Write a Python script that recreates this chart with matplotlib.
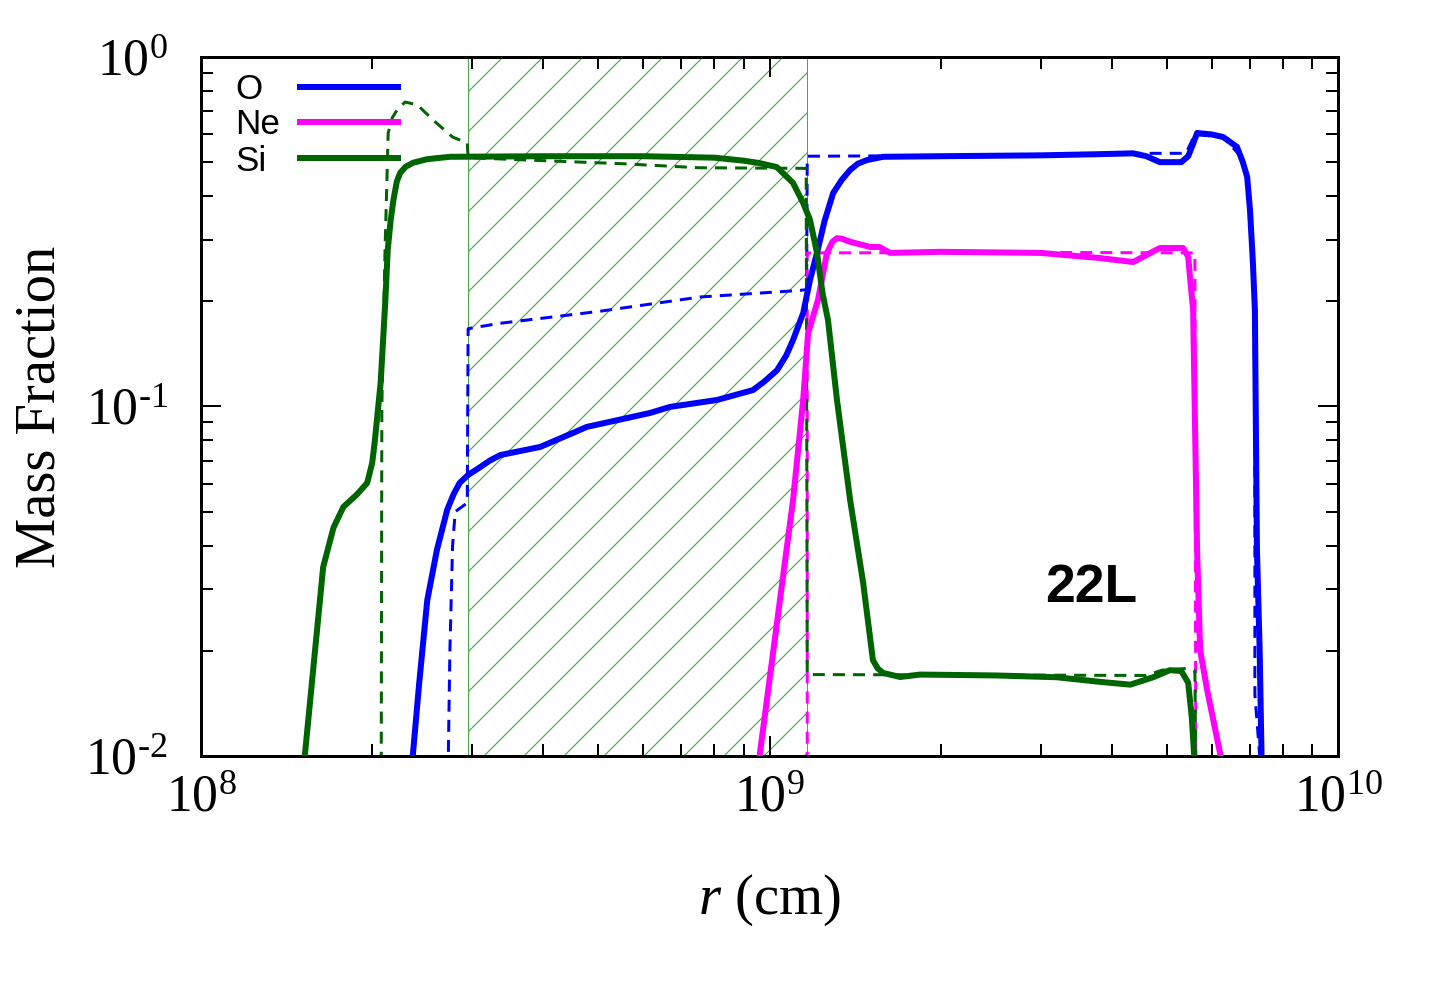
import numpy as np
import matplotlib
matplotlib.use("Agg")
import matplotlib.pyplot as plt
from matplotlib.ticker import LogLocator, NullFormatter, FuncFormatter

# mass fractions vs radius
# solid = one model, dashed = the other (initial) profile
o_r = [2.30e8, 2.36e8, 2.42e8, 2.50e8, 2.60e8, 2.71e8, 2.78e8, 2.85e8, 2.95e8, 3.10e8,
       3.22e8, 3.36e8, 3.95e8, 4.51e8, 4.77e8, 6.16e8, 6.68e8, 8.09e8, 9.35e8, 9.8e8,
       1.031e9, 1.07e9, 1.10e9, 1.146e9, 1.178e9, 1.212e9, 1.25e9, 1.294e9, 1.34e9, 1.386e9,
       1.43e9, 1.484e9, 1.584e9, 2.0e9, 3.0e9, 3.8e9, 4.36e9, 4.6e9, 4.86e9, 5.3e9,
       5.45e9, 5.55e9, 5.65e9, 6.0e9, 6.28e9, 6.64e9, 6.8e9, 6.92e9, 7.0e9, 7.08e9,
       7.14e9, 7.2e9, 7.28e9, 7.34e9]
o_x = [0.006, 0.0102, 0.0162, 0.0279, 0.0389, 0.0506, 0.056, 0.0604, 0.0637, 0.0671,
       0.070, 0.0726, 0.0766, 0.084, 0.0874, 0.0958, 0.0997, 0.1044, 0.1114, 0.118,
       0.127, 0.140, 0.155, 0.185, 0.230, 0.275, 0.340, 0.408, 0.445, 0.475,
       0.495, 0.507, 0.518, 0.520, 0.523, 0.527, 0.530, 0.520, 0.500, 0.500,
       0.520, 0.560, 0.606, 0.600, 0.590, 0.553, 0.500, 0.454, 0.365, 0.262,
       0.189, 0.039, 0.020, 0.0095]

o_r_d = [2.72e8, 2.74e8, 2.77e8, 2.80e8, 2.94e8, 2.95e8, 3.36e8, 5.0e8, 7.55e8, 1.13e9,
         1.162e9, 1.165e9, 2.0e9, 3.0e9, 4.5e9, 5.4e9, 5.6e9, 6.3e9, 6.8e9, 7.0e9,
         7.1e9, 7.14e9, 7.14e9, 7.3e9]
o_x_d = [0.009, 0.020, 0.040, 0.050, 0.053, 0.167, 0.173, 0.187, 0.2057, 0.2148,
         0.216, 0.520, 0.522, 0.525, 0.530, 0.530, 0.600, 0.590, 0.510, 0.400,
         0.250, 0.100, 0.015, 0.0095]

ne_r = [9.5e8, 9.62e8, 1.043e9, 1.10e9, 1.146e9, 1.169e9, 1.217e9, 1.262e9, 1.29e9, 1.314e9,
        1.34e9, 1.386e9, 1.503e9, 1.56e9, 1.63e9, 2.0e9, 3.0e9, 3.8e9, 4.36e9, 4.86e9,
        5.34e9, 5.45e9, 5.49e9, 5.56e9, 5.65e9, 5.72e9, 5.885e9, 6.2e9, 6.3e9]
ne_x = [0.0085, 0.0102, 0.0279, 0.054, 0.1045, 0.162, 0.202, 0.275, 0.296, 0.303,
        0.302, 0.296, 0.286, 0.286, 0.275, 0.277, 0.275, 0.266, 0.259, 0.284,
        0.284, 0.268, 0.2346, 0.1888, 0.0389, 0.0201, 0.01545, 0.0102, 0.009]

ne_r_d = [1.165e9, 1.165e9, 3.0e9, 5.6e9, 5.62e9]
ne_x_d = [0.0095, 0.275, 0.276, 0.275, 0.0095]

si_r = [1.50e8, 1.524e8, 1.64e8, 1.71e8, 1.78e8, 1.88e8, 1.96e8, 2.0e8, 2.02e8, 2.07e8,
        2.11e8, 2.13e8, 2.155e8, 2.18e8, 2.21e8, 2.24e8, 2.29e8, 2.36e8, 2.5e8, 2.74e8,
        4.0e8, 6.0e8, 8.0e8, 9.0e8, 9.6e8, 1.03e9, 1.10e9, 1.146e9, 1.178e9, 1.212e9,
        1.24e9, 1.267e9, 1.314e9, 1.386e9, 1.461e9, 1.52e9, 1.55e9, 1.584e9, 1.697e9, 1.84e9,
        2.5e9, 3.2e9, 3.81e9, 4.31e9, 4.73e9, 5.06e9, 5.3e9, 5.45e9, 5.53e9, 5.58e9,
        5.6e9]
si_x = [0.008, 0.0102, 0.0347, 0.045, 0.0516, 0.056, 0.0604, 0.0689, 0.0787, 0.117,
        0.202, 0.28, 0.34, 0.39, 0.44, 0.466, 0.485, 0.498, 0.510, 0.518,
        0.520, 0.520, 0.515, 0.505, 0.497, 0.484, 0.436, 0.382, 0.342, 0.275,
        0.21, 0.177, 0.1045, 0.054, 0.0313, 0.0188, 0.0178, 0.01728, 0.01683, 0.0171,
        0.0170, 0.0168, 0.0163, 0.0160, 0.0168, 0.0176, 0.0175, 0.0162, 0.0129, 0.0102,
        0.0095]

si_r_d = [2.075e8, 2.08e8, 2.107e8, 2.134e8, 2.17e8, 2.212e8, 2.285e8, 2.40e8, 2.56e8, 2.77e8,
          2.94e8, 2.95e8, 4.0e8, 5.5e8, 7.5e8, 1.16e9, 1.165e9, 4.6e9, 4.9e9, 5.4e9,
          5.6e9, 5.62e9]
si_x_d = [0.0095, 0.10, 0.28, 0.606, 0.67, 0.705, 0.743, 0.73, 0.66, 0.59,
          0.567, 0.515, 0.505, 0.495, 0.482, 0.480, 0.0171, 0.0170, 0.0176, 0.0178,
          0.0175, 0.0095]

shade_lo = 2.95e8  # hatched band
shade_hi = 1.165e9

species = ["O", "Ne", "Si"]
colors = ["#0000ff", "#ff00ff", "#006400"]

plt.rcParams['font.family'] = 'Liberation Serif'
plt.rcParams['mathtext.fontset'] = 'custom'
plt.rcParams['mathtext.rm'] = 'Liberation Serif'
plt.rcParams['mathtext.it'] = 'Liberation Serif:italic'
plt.rcParams['hatch.linewidth'] = 0.7

fig = plt.figure(figsize=(12, 8.4), dpi=120)
ax = fig.add_axes([0.1396, 0.25, 0.7896, 0.6935])

ax.axvspan(shade_lo, shade_hi, facecolor='none', edgecolor='#4ca64c',
           hatch='/', linewidth=0.6, zorder=0)

dash = (4, 2.7)
ax.plot(o_r_d, o_x_d, color=colors[0], lw=1.8, dashes=dash, zorder=2)
ax.plot(ne_r_d, ne_x_d, color=colors[1], lw=1.8, dashes=dash, zorder=2)
ax.plot(si_r_d, si_x_d, color=colors[2], lw=1.8, dashes=dash, zorder=2)

ax.plot(o_r, o_x, color=colors[0], lw=3.6, zorder=3)
ax.plot(ne_r, ne_x, color=colors[1], lw=3.6, zorder=3)
ax.plot(si_r, si_x, color=colors[2], lw=3.6, zorder=3)

ax.set_xscale('log')
ax.set_yscale('log')
ax.set_xlim(1e8, 1e10)
ax.set_ylim(1e-2, 1)


def pow10(v, pos):
    e = int(round(np.log10(v)))
    if e < 0:
        return r'$10^{\text{-}%d}$' % (-e)
    return r'$10^{%d}$' % e


for a in (ax.xaxis, ax.yaxis):
    a.set_major_locator(LogLocator(base=10, numticks=10))
    a.set_minor_locator(LogLocator(base=10, subs=np.arange(2, 10), numticks=10))
    a.set_major_formatter(FuncFormatter(pow10))
    a.set_minor_formatter(NullFormatter())

ax.tick_params(which='both', direction='in', top=True, right=True, width=1.2)
ax.tick_params(which='major', length=12, labelsize=31)
ax.tick_params(which='minor', length=7)
ax.tick_params(axis='y', which='major', pad=20)
ax.tick_params(axis='x', which='major', pad=11)
for s in ax.spines.values():
    s.set_linewidth(1.8)

ax.set_xlabel('$r$ (cm)', fontsize=34, va='center')
ax.xaxis.set_label_coords(0.5, -0.206)
ax.set_ylabel('Mass Fraction', fontsize=34, va='center')
ax.yaxis.set_label_coords(-0.1416, 0.5)

# legend: names on the left, line samples to the right
leg_y = [0.953, 0.903, 0.851]
for name, c, yy in zip(species, colors, leg_y):
    ax.text(0.0299, yy, name, transform=ax.transAxes, fontsize=21,
            family='Liberation Sans', ha='left', va='center')
    ax.plot([0.0871, 0.1733], [yy + 0.004, yy + 0.004], transform=ax.transAxes,
            color=c, lw=3.6)

ax.text(0.7828, 0.2403, '22L', transform=ax.transAxes, fontsize=32,
        family='Liberation Sans', weight='bold', ha='center', va='center')

fig.savefig('out.png', dpi=120)
